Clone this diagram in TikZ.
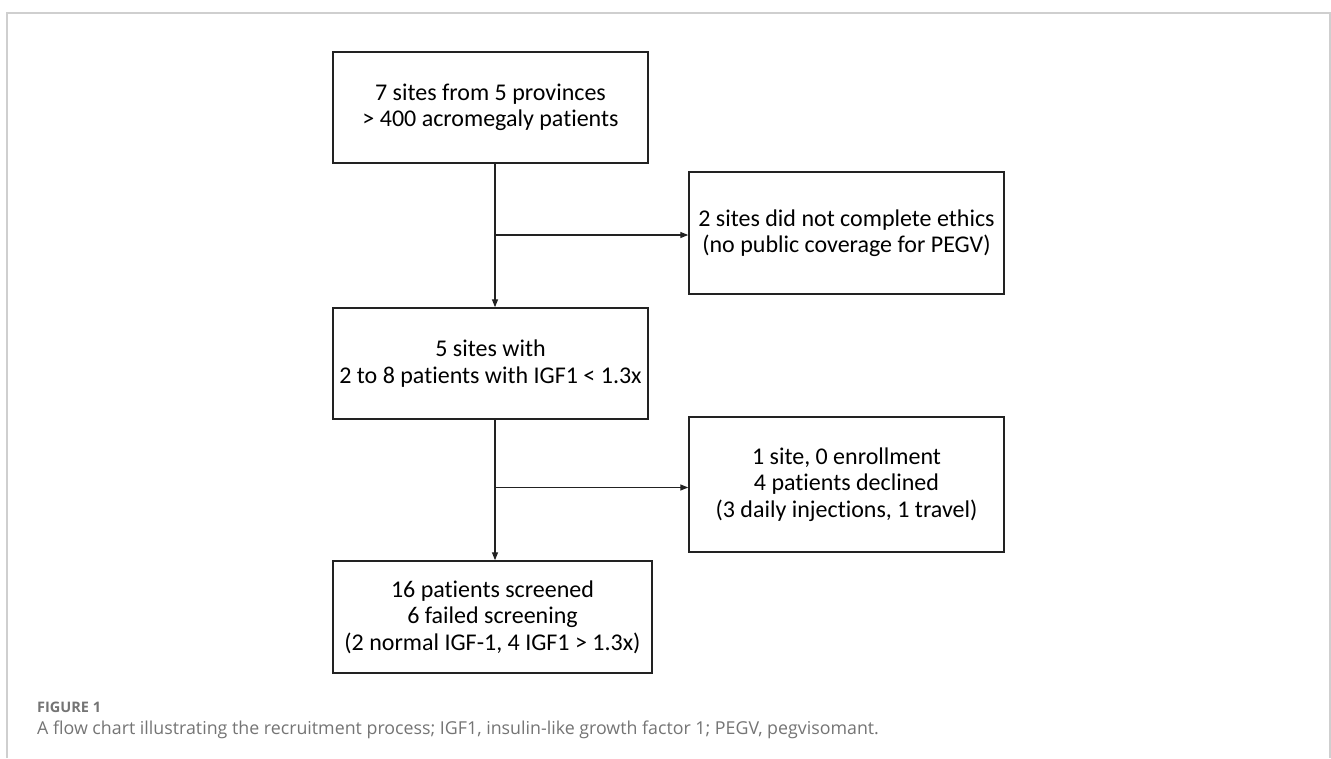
\documentclass[tikz,border=0pt]{standalone}
\usepackage{fontspec}
\setmainfont{Carlito}[Ligatures=NoCommon]
\newfontfamily\captionfont{Open Sans}[Ligatures=NoCommon]
\usepackage{xcolor}
\usetikzlibrary{positioning,calc,arrows.meta}

\definecolor{framegray}{HTML}{CFCFCF}
\definecolor{capgray}{HTML}{747474}
\definecolor{linedark}{HTML}{222222}

\tikzset{
    flowbox/.style={draw=linedark, line width=1.5pt, align=center, inner sep=0pt,
        minimum width=315pt, font=\fontsize{24}{26.5}\selectfont},
    flowarrow/.style={draw=linedark, line width=1.4pt, -{Triangle[length=8pt,width=6pt]}}
}

\begin{document}
\begin{tikzpicture}[x=1pt, y=-1pt]
    \useasboundingbox (0, 0) rectangle (1331, 758);

    % Outer frame
    \draw [framegray, line width=1.5pt] (7, 758) -- (7, 13) -- (1330, 13) -- (1330, 758);

    % Main column
    \node [flowbox, minimum height=111pt] (sites) at (490.5, 107.5) {7 sites from 5 provinces\\> 400 acromegaly patients};
    \node [flowbox, minimum height=111pt] (igf) at (490.5, 363.5) {5 sites with\\2 to 8 patients with IGF1 < 1.3x};
    \node [flowbox, minimum width=319pt, minimum height=112pt] (screened) at (492.5, 617) {16 patients screened\\6 failed screening\\(2 normal IGF-1, 4 IGF1 > 1.3x)};

    % Exclusions
    \node [flowbox, minimum height=122pt] (ethics) at (846.5, 233) {2 sites did not complete ethics\\(no public coverage for PEGV)};
    \node [flowbox, minimum height=135pt] (declined) at (846.5, 484.5) {1 site, 0 enrollment\\4 patients declined\\(3 daily injections, 1 travel)};

    % Trunk
    \coordinate (trunk) at (495, 0);
    \draw [flowarrow] (sites.south -| trunk) -- (igf.north -| trunk);
    \draw [flowarrow] (igf.south -| trunk) -- (screened.north -| trunk);
    \draw [flowarrow] (trunk |- ethics.west) ++(0, 2) coordinate (split1) -- (ethics.west |- split1);
    \draw [flowarrow] (trunk |- declined.west) ++(0, 3) coordinate (split2) -- (declined.west |- split2);

    % Caption
    \node [anchor=base west, capgray, font=\captionfont\bfseries\fontsize{14.5}{16}\selectfont, inner sep=0pt] (figlabel) at (37, 712) {FIGURE 1};
    \node [anchor=base west, capgray, font=\captionfont\fontsize{17.8}{20}\selectfont, inner sep=0pt] (figtext) at (37, 734) {A flow chart illustrating the recruitment process; IGF1, insulin-like growth factor 1; PEGV, pegvisomant.};
\end{tikzpicture}
\end{document}
